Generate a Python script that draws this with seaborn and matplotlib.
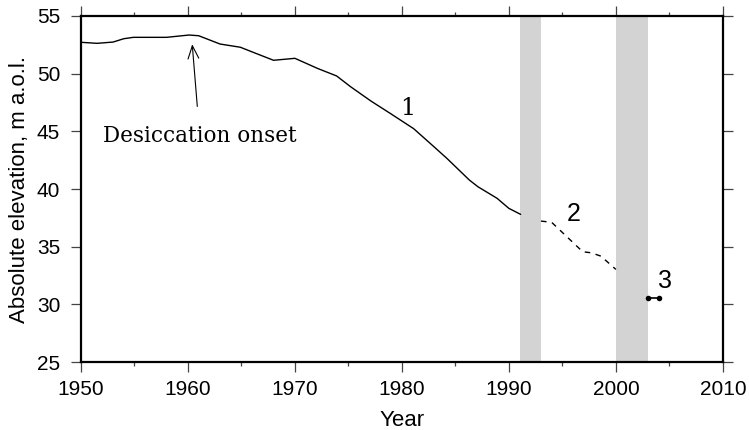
import numpy as np
import pandas as pd
import matplotlib
matplotlib.use("Agg")
import matplotlib.pyplot as plt
import seaborn as sns

# series 1: observed level (solid)
years1 = [1950, 1951.5, 1953, 1954, 1954.9, 1958, 1960.1, 1961, 1963, 1964.9,
          1966.1, 1968, 1970, 1972.1, 1973.9, 1975.2, 1977.1, 1978.9, 1981.1, 1983,
          1984.2, 1986.3, 1987.1, 1988.9, 1990, 1991.1]
level1 = [52.72, 52.63, 52.74, 53.03, 53.15, 53.15, 53.35, 53.29, 52.57, 52.29,
          51.85, 51.16, 51.33, 50.46, 49.8, 48.87, 47.63, 46.56, 45.23, 43.66,
          42.66, 40.78, 40.2, 39.19, 38.32, 37.8]

# series 2: dashed
years2 = [1993, 1994, 1996.9, 1997.7, 1998.6, 2000]
level2 = [37.22, 37.11, 34.56, 34.47, 34.18, 33.03]

# series 3: two points
years3 = [2003, 2004]
level3 = [30.52, 30.52]

# shaded gaps
gaps = [(1991, 1993), (2000, 2003)]

sns.set_style("ticks", {"axes.edgecolor": "black", "text.color": "black",
                        "axes.labelcolor": "black", "xtick.color": "black",
                        "ytick.color": "black"})
plt.rcParams['font.family'] = ['Liberation Sans', 'DejaVu Sans']

fig = plt.figure(figsize=(7.49, 4.30), dpi=100)
ax = fig.add_axes([0.1081, 0.1581, 0.857, 0.8047])

for a, b in gaps:
    ax.axvspan(a, b, color="#d3d3d3", lw=0, zorder=0)

d1 = pd.DataFrame({"year": years1, "level": level1})
d2 = pd.DataFrame({"year": years2, "level": level2})
d3 = pd.DataFrame({"year": years3, "level": level3})
sns.lineplot(data=d1, x="year", y="level", ax=ax, color="black", lw=1.0)
sns.lineplot(data=d2, x="year", y="level", ax=ax, color="black", lw=1.0, linestyle=(0, (4, 4)))
sns.lineplot(data=d3, x="year", y="level", ax=ax, color="black", lw=1.2, marker="o",
             markersize=4, markeredgewidth=0)

ax.set_xlim(1950, 2010)
ax.set_ylim(25, 55)
ax.set_xticks(range(1950, 2011, 10))
ax.set_xticks(range(1955, 2010, 10), minor=True)
ax.set_yticks(range(25, 56, 5))
ax.tick_params(which="both", direction="out", top=True, right=True, color="#444444")
ax.tick_params(which="major", length=7, width=0.9, labelsize=15, labelcolor="black")
ax.tick_params(axis="y", which="major", pad=8)
ax.tick_params(axis="x", which="major", pad=6)
ax.tick_params(axis="x", which="minor", length=3, width=0.9)
for sp in ax.spines.values():
    sp.set_linewidth(1.6)
    sp.set_color("black")
    sp.set_visible(True)

ax.set_xlabel("Year", fontsize=16, labelpad=8, color="black")
ax.set_ylabel("Absolute elevation, m a.o.l.", fontsize=16, labelpad=5, color="black")

ax.annotate("Desiccation onset", xy=(1960.4, 52.55), xytext=(1961.1, 44.6),
            ha="center", va="center", fontsize=15.5, family="DejaVu Serif", color="black",
            arrowprops=dict(arrowstyle="->,head_length=0.6,head_width=0.25", color="black",
                            lw=0.8, shrinkA=11, shrinkB=0))
ax.text(1980.5, 47.0, "1", fontsize=17, family="DejaVu Serif", color="black",
        ha="center", va="center")
ax.text(1996.1, 37.8, "2", fontsize=18, color="black", ha="center", va="center")
ax.text(2004.6, 32.0, "3", fontsize=18, color="black", ha="center", va="center")

fig.savefig("out.png", dpi=100)
